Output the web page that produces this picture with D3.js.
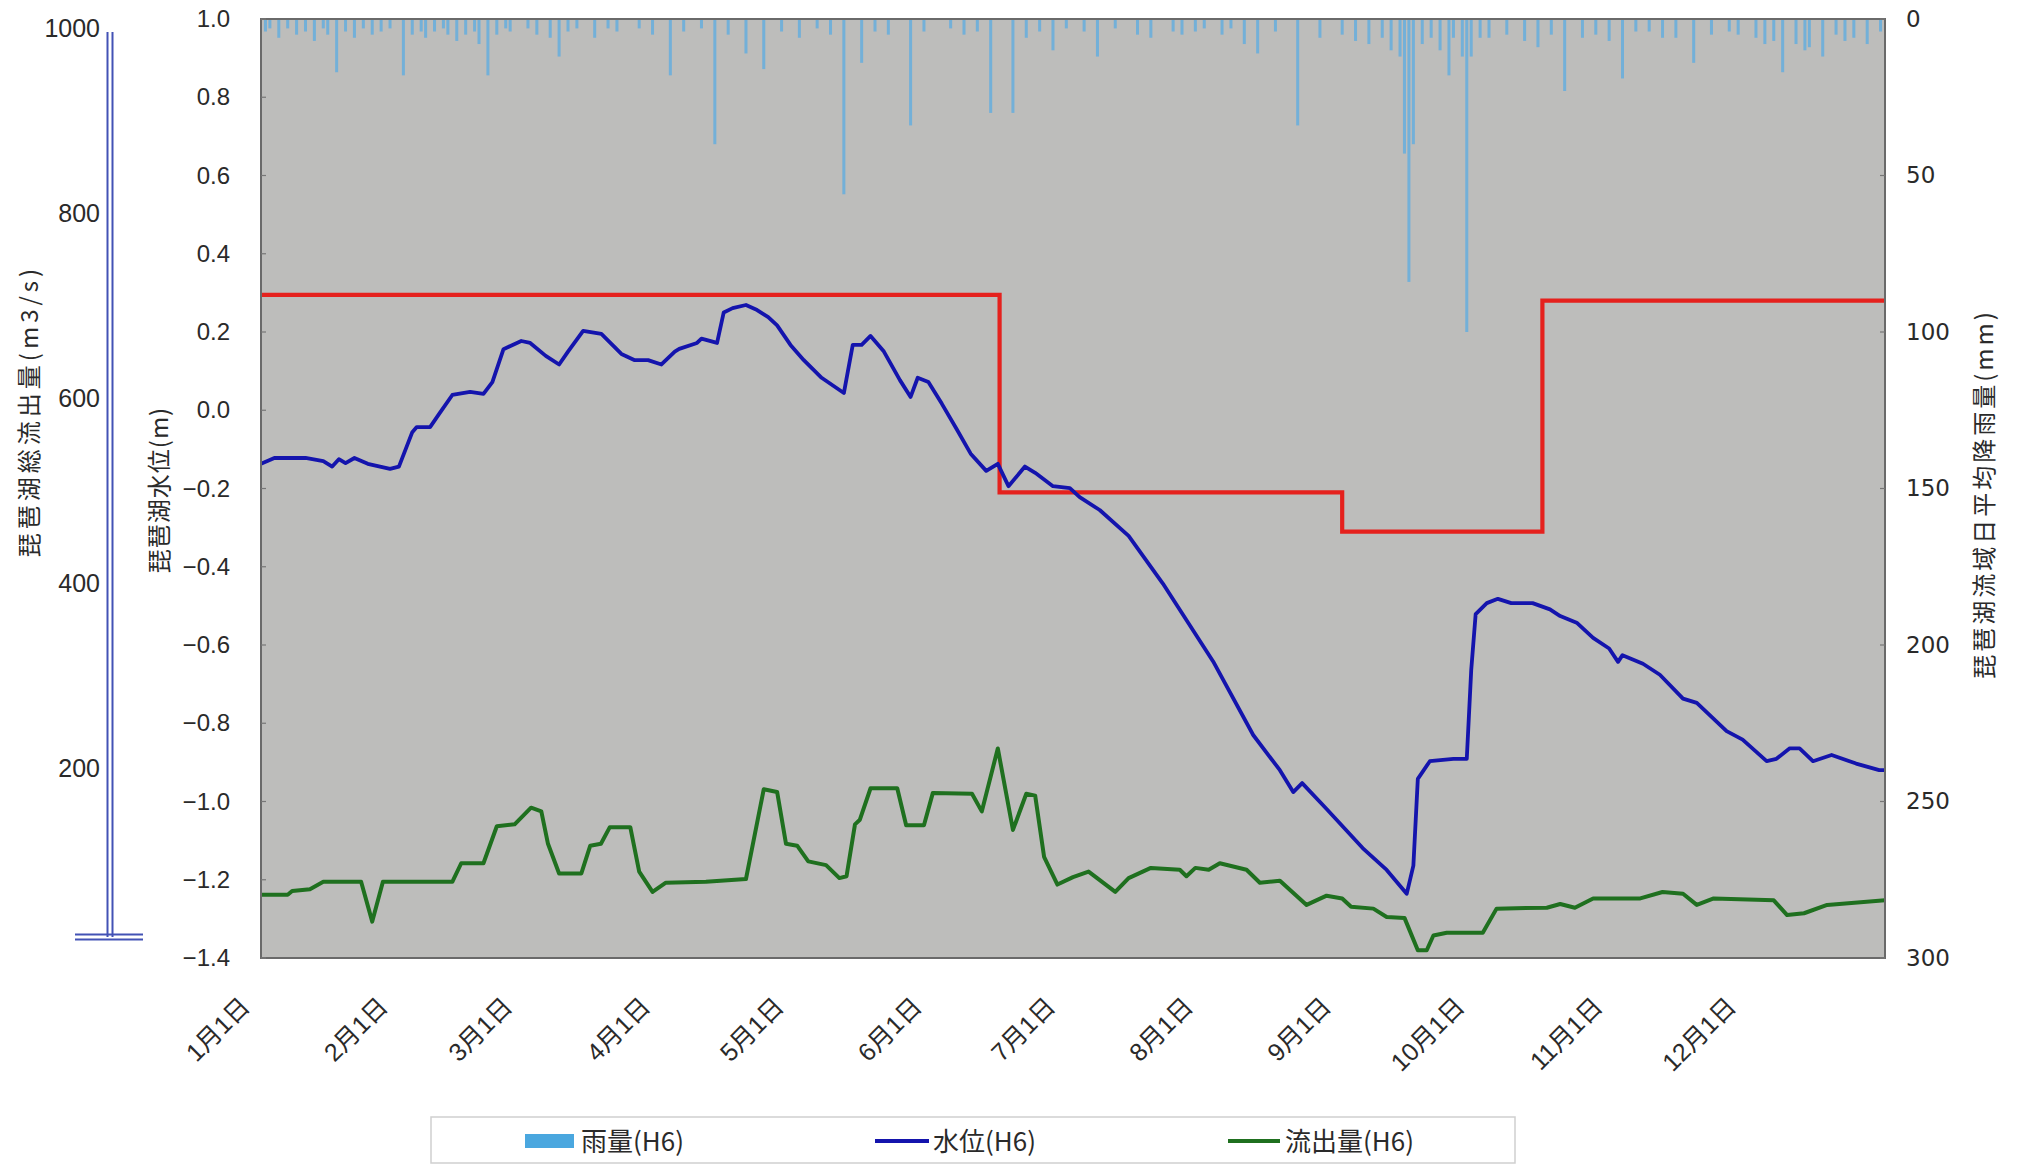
<!DOCTYPE html>
<html><head><meta charset="utf-8">
<script src="https://cdn.jsdelivr.net/npm/d3@7"></script>
<style>
html,body{margin:0;padding:0;background:#fff;}
svg{display:block;}
text{font-family:"Liberation Sans","Noto Sans CJK JP",sans-serif;fill:#2a2a2a;}
.cjk{font-family:"Noto Sans CJK JP","Liberation Sans",sans-serif;}
</style></head>
<body>
<svg id="chart" width="2017" height="1165"></svg>
<script>
// ---------- data ----------
const monthStartDays = [0,31,59,90,120,151,181,212,243,273,304,334];
const monthLabels = ["1月1日","2月1日","3月1日","4月1日","5月1日","6月1日","7月1日","8月1日","9月1日","10月1日","11月1日","12月1日"];
const levelTicks = [1.0,0.8,0.6,0.4,0.2,0.0,-0.2,-0.4,-0.6,-0.8,-1.0,-1.2,-1.4];
const flowTicks = [200,400,600,800,1000];
const rainTicks = [0,50,100,150,200,250,300];

// 水位(H6): day of year, water level (m)
const levelDays = [0,3,10,14,16,17.5,19,21,24,29,31,34,35,38,40,43,47,50,52,54.5,58.5,60.5,64,67,69,72.4,76.5,81,84,87,90,93,94,98,99,102.5,104,106,109,111.5,114,116,119,122,126,131,133,135,137,140,143.6,146,147.6,150,153,156.4,159.5,163,165.6,168,171.7,174,178,181.8,184,188.5,195,202.7,214,223,229,232,234,239.5,247.6,253,257.5,259,260,262.7,268,271,272,273,275.5,278,281,285.8,289.7,292,295.7,299.4,303,305,306,310.6,314.4,319.6,322.7,329.4,333,338.4,340.6,343.6,345.8,348.8,353,358.5,363.7,365];
const levelValues = [-0.137,-0.122,-0.122,-0.130,-0.144,-0.125,-0.135,-0.122,-0.137,-0.150,-0.144,-0.056,-0.043,-0.043,-0.010,0.039,0.047,0.042,0.072,0.156,0.177,0.172,0.139,0.117,0.150,0.203,0.195,0.144,0.128,0.128,0.117,0.150,0.157,0.172,0.183,0.172,0.250,0.261,0.269,0.256,0.238,0.217,0.167,0.128,0.083,0.044,0.167,0.167,0.190,0.150,0.077,0.034,0.083,0.072,0.017,-0.049,-0.111,-0.155,-0.137,-0.194,-0.144,-0.160,-0.194,-0.199,-0.222,-0.255,-0.321,-0.443,-0.642,-0.830,-0.920,-0.976,-0.953,-1.019,-1.119,-1.175,-1.236,-1.164,-0.942,-0.897,-0.891,-0.891,-0.664,-0.521,-0.493,-0.482,-0.493,-0.493,-0.509,-0.526,-0.543,-0.582,-0.609,-0.643,-0.626,-0.648,-0.676,-0.737,-0.748,-0.820,-0.842,-0.897,-0.891,-0.864,-0.864,-0.897,-0.881,-0.903,-0.920,-0.920];

// 流出量(H6): day of year, outflow (m3/s)
const flowDays = [0,6,7,11,14,22.5,25,27.4,43,45,50,53,57,60.7,63,64.5,67,72,74,76.4,78.4,83,85,88,91,100,109,113,116,118,120.5,123,127,130,131.6,133.5,134.6,137,143,145,149,151,159.8,162,165.6,169,172,174,176,179,182.5,186,192,195,200,206.5,208,210,213,215.5,221.5,224.5,229,235,239.5,243,245,250,253,257,260,262,263.5,266.5,274.6,277.7,289,292,295.3,299.4,310,315,319.6,322.7,326.5,340,343,346.8,352,365];
const flowValues = [64,64,68,70,78,78,35,78,78,98,98,138,140,158,154,119,87,87,117,119,137,137,89,67,77,78,81,178,175,119,117,100,96,82,84,140,145,179,179,139,139,174,173,154,222,134,173,171,105,75,83,89,67,82,93,91,84,93,91,98,91,77,79,53,63,60,51,49,40,39,4,4,20,23,23,49,50,54,50,60,60,67,65,53,60,58,42,44,53,58];

// 基準水位 (red step line)
const ruleDays = [0,166,243,288,365];
const ruleValues = [0.295,-0.21,-0.31,0.28,0.28];

// 雨量(H6): day of year, daily rainfall (mm)
const rainDays = [1,2,4,6,8,10,12,14,15,17,19,21,23,25,27,29,32,34,36,37,39,41,42,44,46,48,49,51,53,55,56,60,62,65,67,69,71,75,78,80,85,88,92,95,99,102,105,109,113,117,121,125,128,131,135,138,141,146,149,155,158,161,164,169,172,175,178,181,185,188,192,197,200,205,207,210,212,216,218,221,224,228,233,238,243,246,249,252,254,256,257,258,259,261,263,265,267,268,270,271,272,274,276,280,284,287,290,293,297,300,303,306,309,312,315,318,322,326,330,332,336,338,340,342,345,347,348,351,354,356,358,361,364];
const rainValues = [4,3,6,3,5,4,7,3,5,17,4,6,3,5,4,3,18,5,4,6,4,3,5,7,5,4,8,18,5,3,4,3,5,6,12,4,3,6,3,4,3,5,18,4,3,40,5,11,16,4,6,3,5,56,14,4,5,34,4,3,5,4,30,30,6,4,10,3,4,12,3,5,6,4,5,4,3,5,3,8,11,4,34,6,5,7,8,6,10,12,43,84,40,8,6,10,18,6,12,100,12,6,6,5,7,9,5,23,6,5,7,19,4,4,6,6,14,5,4,5,6,8,7,17,8,10,9,12,5,7,6,8,4];

// ---------- drawing ----------
const svg = d3.select("#chart");
const L = 261, R = 1885, T = 19, B = 958;

const x = d3.scaleLinear().domain([0,365]).range([L,R]);
const yLevel = d3.scaleLinear().domain([-1.4,1.0]).range([B,T]);
const yFlow = d3.scaleLinear().domain([0,1000]).range([954,28]);
const yRain = d3.scaleLinear().domain([0,300]).range([T,B]);

// plot background
svg.append("rect").attr("x",L).attr("y",T).attr("width",R-L).attr("height",B-T)
  .attr("fill","#bdbdbb");

// clip
svg.append("clipPath").attr("id","clip").append("rect")
  .attr("x",L).attr("y",T).attr("width",R-L).attr("height",B-T);
const plot = svg.append("g").attr("clip-path","url(#clip)");

// rain bars
const rainData = rainDays.map((d,i)=>({d, v:rainValues[i]}));
plot.append("g").selectAll("rect").data(rainData).join("rect")
  .attr("x",d=>x(d.d)-1.5).attr("y",yRain(0))
  .attr("width",3).attr("height",d=>yRain(d.v)-yRain(0))
  .attr("fill","#6aaedc").attr("opacity",0.9);

// red rule line
const ruleData = ruleDays.map((d,i)=>({d, v:ruleValues[i]}));
plot.append("path").datum(ruleData)
  .attr("fill","none").attr("stroke","#e5211d").attr("stroke-width",4.2)
  .attr("d", d3.line().x(d=>x(d.d)).y(d=>yLevel(d.v)).curve(d3.curveStepAfter));

// green outflow line
const flowData = flowDays.map((d,i)=>({d, v:flowValues[i]}));
plot.append("path").datum(flowData)
  .attr("fill","none").attr("stroke","#1f701f").attr("stroke-width",4)
  .attr("stroke-linejoin","round")
  .attr("d", d3.line().x(d=>x(d.d)).y(d=>yFlow(d.v)));

// blue water level line
const levelData = levelDays.map((d,i)=>({d, v:levelValues[i]}));
plot.append("path").datum(levelData)
  .attr("fill","none").attr("stroke","#1414ad").attr("stroke-width",3.8)
  .attr("stroke-linejoin","round")
  .attr("d", d3.line().x(d=>x(d.d)).y(d=>yLevel(d.v)));

// frame
svg.append("rect").attr("x",L).attr("y",T).attr("width",R-L).attr("height",B-T)
  .attr("fill","none").attr("stroke","#6a6a6a").attr("stroke-width",2);

// inner tick marks
svg.append("g").selectAll("line").data(levelTicks).join("line")
  .attr("x1",L).attr("x2",L+5).attr("y1",d=>yLevel(d)).attr("y2",d=>yLevel(d))
  .attr("stroke","#777").attr("stroke-width",1.2);
svg.append("g").selectAll("line").data(rainTicks).join("line")
  .attr("x1",R-5).attr("x2",R).attr("y1",d=>yRain(d)).attr("y2",d=>yRain(d))
  .attr("stroke","#777").attr("stroke-width",1.2);

// water level axis (left)
const gLevel = svg.append("g").attr("transform",`translate(${L},0)`)
  .call(d3.axisLeft(yLevel).tickValues(levelTicks).tickSize(0).tickPadding(31).tickFormat(d3.format(".1f")));
gLevel.select(".domain").remove();
gLevel.selectAll("text").attr("font-size",24).attr("fill","#2a2a2a")
  .style("font-family",'"Liberation Sans",sans-serif');

// rain axis (right)
const gRain = svg.append("g").attr("transform",`translate(${R},0)`)
  .call(d3.axisRight(yRain).tickValues(rainTicks).tickSize(0).tickPadding(21));
gRain.select(".domain").remove();
gRain.selectAll("text").attr("font-size",23).attr("fill","#2a2a2a")
  .style("font-family",'"DejaVu Sans",sans-serif');

// outflow axis (far left)
const AX = 110;
const gFlow = svg.append("g").attr("transform",`translate(${AX},0)`)
  .call(d3.axisLeft(yFlow).tickValues(flowTicks).tickSize(0).tickPadding(10).tickFormat(d3.format("d")));
gFlow.select(".domain").remove();
gFlow.selectAll("text").attr("font-size",25).attr("fill","#2a2a2a")
  .style("font-family",'"Liberation Sans",sans-serif');
const footY = 937;
[-2.5,2.5].forEach(o=>{
  svg.append("line").attr("x1",AX+o).attr("x2",AX+o).attr("y1",yFlow(1000)+4).attr("y2",footY)
    .attr("stroke","#4352b5").attr("stroke-width",2);
  svg.append("line").attr("x1",75).attr("x2",143).attr("y1",footY+o).attr("y2",footY+o)
    .attr("stroke","#4352b5").attr("stroke-width",2);
});

// x axis
const gX = svg.append("g").attr("transform",`translate(0,${B})`)
  .call(d3.axisBottom(x).tickValues(monthStartDays).tickSize(0)
    .tickFormat((d,i)=>monthLabels[i]));
gX.select(".domain").remove();
gX.selectAll("text").attr("y",0).attr("dy",0)
  .attr("text-anchor","end").attr("font-size",25).attr("fill","#2a2a2a")
  .attr("transform","translate(-10,50) rotate(-45)");

// axis titles
svg.append("text").attr("class","cjk").attr("transform","translate(38,411) rotate(-90)")
  .attr("text-anchor","middle").attr("font-size",24).attr("letter-spacing",4)
  .text("琵琶湖総流出量(m3/s)");
svg.append("text").attr("class","cjk").attr("transform","translate(168,490) rotate(-90)")
  .attr("text-anchor","middle").attr("font-size",24).attr("letter-spacing",1)
  .text("琵琶湖水位(m)");
svg.append("text").attr("class","cjk").attr("transform","translate(1993,494) rotate(-90)")
  .attr("text-anchor","middle").attr("font-size",24).attr("letter-spacing",3)
  .text("琵琶湖流域日平均降雨量(mm)");

// legend
const lg = svg.append("g");
lg.append("rect").attr("x",431).attr("y",1117).attr("width",1084).attr("height",46)
  .attr("fill","#fff").attr("stroke","#cfcfcf").attr("stroke-width",1.5);
lg.append("rect").attr("x",525).attr("y",1134).attr("width",49).attr("height",14).attr("fill","#4aa7df");
lg.append("text").attr("class","cjk").attr("x",581).attr("y",1151).attr("font-size",26).text("雨量(H6)");
lg.append("line").attr("x1",875).attr("x2",929).attr("y1",1141).attr("y2",1141)
  .attr("stroke","#1414ad").attr("stroke-width",4);
lg.append("text").attr("class","cjk").attr("x",933).attr("y",1151).attr("font-size",26).text("水位(H6)");
lg.append("line").attr("x1",1228).attr("x2",1280).attr("y1",1141).attr("y2",1141)
  .attr("stroke","#1f701f").attr("stroke-width",4);
lg.append("text").attr("class","cjk").attr("x",1285).attr("y",1151).attr("font-size",26).text("流出量(H6)");
</script>
</body></html>
